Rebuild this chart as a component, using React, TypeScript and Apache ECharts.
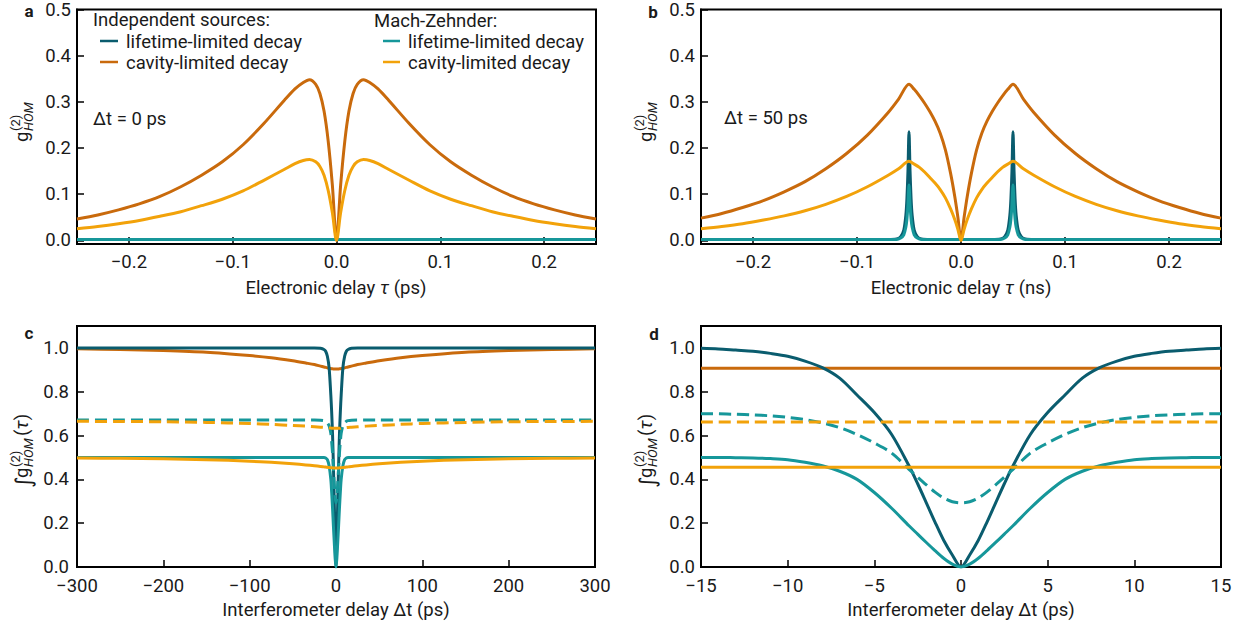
import React, { useEffect, useRef } from "react";
import * as echarts from "echarts";

// ---------- Panel a (Δt = 0 ps), τ in ps ----------
const aTau = [-0.25, -0.23, -0.21, -0.19, -0.17, -0.15, -0.13, -0.11, -0.09, -0.07, -0.05, -0.04, -0.032, -0.026, -0.02, -0.016, -0.012, -0.008, -0.004, 0, 0.004, 0.008, 0.012, 0.016, 0.02, 0.026, 0.032, 0.04, 0.05, 0.07, 0.09, 0.11, 0.13, 0.15, 0.17, 0.19, 0.21, 0.23, 0.25];
const aIndepCavity = [0.046, 0.055, 0.066, 0.079, 0.095, 0.116, 0.141, 0.17, 0.207, 0.253, 0.304, 0.328, 0.342, 0.348, 0.338, 0.318, 0.28, 0.215, 0.12, 0, 0.12, 0.215, 0.28, 0.318, 0.338, 0.348, 0.342, 0.328, 0.304, 0.253, 0.207, 0.17, 0.141, 0.116, 0.095, 0.079, 0.066, 0.055, 0.046];
const aMzCavity = [0.025, 0.03, 0.036, 0.043, 0.052, 0.062, 0.075, 0.089, 0.107, 0.13, 0.154, 0.166, 0.173, 0.175, 0.17, 0.16, 0.141, 0.108, 0.06, 0, 0.06, 0.108, 0.141, 0.16, 0.17, 0.175, 0.173, 0.166, 0.154, 0.13, 0.107, 0.089, 0.075, 0.062, 0.052, 0.043, 0.036, 0.03, 0.025];
const aFlatTau = [-0.25, 0, 0.25];
const aIndepLifetime = [0.002, 0.002, 0.002];
const aMzLifetime = [0.002, 0.002, 0.002];

// ---------- Panel b (Δt = 50 ps), τ in ns ----------
const bTau = [-0.25, -0.23, -0.21, -0.19, -0.17, -0.15, -0.13, -0.11, -0.09, -0.07, -0.06, -0.05, -0.045, -0.04, -0.035, -0.03, -0.025, -0.02, -0.015, -0.01, -0.006, -0.003, 0, 0.003, 0.006, 0.01, 0.015, 0.02, 0.025, 0.03, 0.035, 0.04, 0.045, 0.05, 0.06, 0.07, 0.09, 0.11, 0.13, 0.15, 0.17, 0.19, 0.21, 0.23, 0.25];
const bIndepCavity = [0.048, 0.058, 0.071, 0.086, 0.105, 0.127, 0.155, 0.188, 0.228, 0.277, 0.306, 0.338, 0.327, 0.313, 0.297, 0.279, 0.258, 0.232, 0.196, 0.145, 0.095, 0.05, 0, 0.05, 0.095, 0.145, 0.196, 0.232, 0.258, 0.279, 0.297, 0.313, 0.327, 0.338, 0.306, 0.277, 0.228, 0.188, 0.155, 0.127, 0.105, 0.086, 0.071, 0.058, 0.048];
const bMzCavity = [0.025, 0.03, 0.036, 0.044, 0.053, 0.064, 0.078, 0.095, 0.116, 0.141, 0.155, 0.171, 0.165, 0.158, 0.148, 0.136, 0.124, 0.11, 0.092, 0.068, 0.045, 0.024, 0, 0.024, 0.045, 0.068, 0.092, 0.11, 0.124, 0.136, 0.148, 0.158, 0.165, 0.171, 0.155, 0.141, 0.116, 0.095, 0.078, 0.064, 0.053, 0.044, 0.036, 0.03, 0.025];
const bSpikeTau = [-0.25, -0.1, -0.07, -0.062, -0.058, -0.055, -0.053, -0.052, -0.051, -0.05, -0.049, -0.048, -0.047, -0.045, -0.042, -0.038, -0.03, 0, 0.03, 0.038, 0.042, 0.045, 0.047, 0.048, 0.049, 0.05, 0.051, 0.052, 0.053, 0.055, 0.058, 0.062, 0.07, 0.1, 0.25];
const bIndepLifetime = [0.002, 0.002, 0.002, 0.003, 0.008, 0.022, 0.055, 0.09, 0.15, 0.235, 0.15, 0.09, 0.055, 0.022, 0.008, 0.003, 0.002, 0.002, 0.002, 0.003, 0.008, 0.022, 0.055, 0.09, 0.15, 0.235, 0.15, 0.09, 0.055, 0.022, 0.008, 0.003, 0.002, 0.002, 0.002];
const bMzLifetime = [0.002, 0.002, 0.002, 0.002, 0.005, 0.012, 0.029, 0.046, 0.077, 0.12, 0.077, 0.046, 0.029, 0.012, 0.005, 0.002, 0.002, 0.002, 0.002, 0.002, 0.005, 0.012, 0.029, 0.046, 0.077, 0.12, 0.077, 0.046, 0.029, 0.012, 0.005, 0.002, 0.002, 0.002, 0.002];

// ---------- Panel c, Δt in ps ----------
const cDt = [-300, -250, -200, -150, -100, -75, -50, -35, -25, -18, -14, -12, -10, -8, -6, -5, -4, -3, -2, -1, 0, 1, 2, 3, 4, 5, 6, 8, 10, 12, 14, 18, 25, 35, 50, 75, 100, 150, 200, 250, 300];
const cIndepCavity = [0.996, 0.993, 0.988, 0.98, 0.965, 0.955, 0.941, 0.931, 0.924, 0.917, 0.913, 0.911, 0.909, 0.907, 0.906, 0.905, 0.905, 0.904, 0.904, 0.904, 0.904, 0.904, 0.904, 0.904, 0.905, 0.905, 0.906, 0.907, 0.909, 0.911, 0.913, 0.917, 0.924, 0.931, 0.941, 0.955, 0.965, 0.98, 0.988, 0.993, 0.996];
const cDashedCavity = [0.665, 0.664, 0.663, 0.66, 0.655, 0.651, 0.646, 0.643, 0.64, 0.638, 0.637, 0.636, 0.635, 0.634, 0.634, 0.633, 0.633, 0.633, 0.633, 0.633, 0.633, 0.633, 0.633, 0.633, 0.633, 0.633, 0.634, 0.634, 0.635, 0.636, 0.637, 0.638, 0.64, 0.643, 0.646, 0.651, 0.655, 0.66, 0.663, 0.664, 0.665];
const cMzCavity = [0.498, 0.496, 0.494, 0.49, 0.483, 0.478, 0.471, 0.466, 0.462, 0.459, 0.457, 0.456, 0.455, 0.454, 0.453, 0.453, 0.453, 0.452, 0.452, 0.452, 0.452, 0.452, 0.452, 0.452, 0.453, 0.453, 0.453, 0.454, 0.455, 0.456, 0.457, 0.459, 0.462, 0.466, 0.471, 0.478, 0.483, 0.49, 0.494, 0.496, 0.498];
const cIndepLifetime = [1, 1, 1, 1, 1, 1, 1, 1, 1, 0.998, 0.993, 0.985, 0.962, 0.91, 0.785, 0.705, 0.605, 0.462, 0.293, 0.122, 0, 0.122, 0.293, 0.462, 0.605, 0.705, 0.785, 0.91, 0.962, 0.985, 0.993, 0.998, 1, 1, 1, 1, 1, 1, 1, 1, 1];
const cMzLifetime = [0.5, 0.5, 0.5, 0.5, 0.5, 0.5, 0.5, 0.5, 0.5, 0.5, 0.5, 0.498, 0.49, 0.462, 0.4, 0.34, 0.268, 0.188, 0.112, 0.04, 0, 0.04, 0.112, 0.188, 0.268, 0.34, 0.4, 0.462, 0.49, 0.498, 0.5, 0.5, 0.5, 0.5, 0.5, 0.5, 0.5, 0.5, 0.5, 0.5, 0.5];
const cDashedLifetime = [0.671, 0.671, 0.671, 0.671, 0.671, 0.671, 0.671, 0.671, 0.671, 0.67, 0.668, 0.665, 0.658, 0.645, 0.61, 0.57, 0.52, 0.45, 0.38, 0.318, 0.293, 0.318, 0.38, 0.45, 0.52, 0.57, 0.61, 0.645, 0.658, 0.665, 0.668, 0.67, 0.671, 0.671, 0.671, 0.671, 0.671, 0.671, 0.671, 0.671, 0.671];

// ---------- Panel d, Δt in ps ----------
const dDt = [-15, -14, -13, -12, -11, -10, -9, -8, -7, -6, -5, -4, -3, -2.5, -2, -1.5, -1, -0.5, 0, 0.5, 1, 1.5, 2, 2.5, 3, 4, 5, 6, 7, 8, 9, 10, 11, 12, 13, 14, 15];
const dIndepLifetime = [0.998, 0.995, 0.99, 0.985, 0.975, 0.962, 0.94, 0.91, 0.862, 0.785, 0.705, 0.605, 0.462, 0.38, 0.293, 0.205, 0.122, 0.055, 0, 0.055, 0.122, 0.205, 0.293, 0.38, 0.462, 0.605, 0.705, 0.785, 0.862, 0.91, 0.94, 0.962, 0.975, 0.985, 0.99, 0.995, 0.998];
const dMzLifetime = [0.5, 0.5, 0.499, 0.498, 0.495, 0.49, 0.478, 0.462, 0.437, 0.4, 0.34, 0.268, 0.188, 0.15, 0.112, 0.075, 0.04, 0.013, 0, 0.013, 0.04, 0.075, 0.112, 0.15, 0.188, 0.268, 0.34, 0.4, 0.437, 0.462, 0.478, 0.49, 0.495, 0.498, 0.499, 0.5, 0.5];
const dDashedLifetime = [0.7, 0.699, 0.697, 0.694, 0.69, 0.683, 0.673, 0.658, 0.636, 0.605, 0.566, 0.52, 0.446, 0.41, 0.375, 0.342, 0.315, 0.298, 0.293, 0.298, 0.315, 0.342, 0.375, 0.41, 0.446, 0.52, 0.566, 0.605, 0.636, 0.658, 0.673, 0.683, 0.69, 0.694, 0.697, 0.699, 0.7];
const dFlatDt = [-15, 15];
const dIndepCavity = [0.907, 0.907];
const dDashedCavity = [0.662, 0.662];
const dMzCavity = [0.455, 0.455];

// ---------- Tick values ----------
const abXTicks = [-0.2, -0.1, 0, 0.1, 0.2];
const abYTicks = [0, 0.1, 0.2, 0.3, 0.4, 0.5];
const cXTicks = [-300, -200, -100, 0, 100, 200, 300];
const dXTicks = [-15, -10, -5, 0, 5, 10, 15];
const cdYTicks = [0, 0.2, 0.4, 0.6, 0.8, 1.0];

const FONT = "Roboto, 'DejaVu Sans', sans-serif";
const FS = 18.5;
const INK = "#1a1a1a";
const DARK_TEAL = "#0a5c6e";
const LIGHT_TEAL = "#16979a";
const DARK_ORANGE = "#c96a0c";
const LIGHT_ORANGE = "#f2a20a";

const pts = (xs: number[], ys: number[]) => xs.map((x, i) => [x, ys[i]]);
const fmt = (d: number) => (v: number) => (v < 0 ? "\u2212" : "") + Math.abs(v).toFixed(d);

function xAxisCfg(gridIndex: number, min: number, max: number, ticks: number[], digits: number, margin = 8) {
  return {
    type: "value", gridIndex, min, max,
    axisLine: { show: true, onZero: false, lineStyle: { color: "#000", width: 2 } },
    splitLine: { show: false },
    axisTick: { show: true, inside: true, length: 7, customValues: ticks, lineStyle: { color: "#000", width: 1.5 } },
    axisLabel: { customValues: ticks, formatter: fmt(digits), margin, color: INK, fontFamily: FONT, fontSize: FS },
  };
}
function yAxisCfg(gridIndex: number, min: number, max: number, ticks: number[], margin = 6) {
  return {
    type: "value", gridIndex, min, max,
    axisLine: { show: true, onZero: false, lineStyle: { color: "#000", width: 2 } },
    splitLine: { show: false },
    axisTick: { show: true, inside: true, length: 7, customValues: ticks, lineStyle: { color: "#000", width: 1.5 } },
    axisLabel: { customValues: ticks, formatter: fmt(1), margin, color: INK, fontFamily: FONT, fontSize: FS },
  };
}
function line(name: string, idx: number, data: number[][], color: string, dashed = false) {
  return {
    name, type: "line", xAxisIndex: idx, yAxisIndex: idx, data,
    showSymbol: false, symbol: "none", smooth: 0.3, silent: true,
    emphasis: { disabled: true },
    lineStyle: { color, width: 3, type: dashed ? [12, 6] : "solid", cap: "butt", join: "round" },
  };
}
function txt(x: number, y: number, text: string, extra: any = {}) {
  return {
    type: "text", x, y, silent: true,
    style: { text, fontFamily: FONT, fontSize: FS, fill: INK, align: "left", verticalAlign: "middle", ...extra },
  };
}
function legLine(x1: number, x2: number, y: number, color: string) {
  return { type: "line", silent: true, shape: { x1, y1: y, x2, y2: y }, style: { stroke: color, lineWidth: 2.5 } };
}
function gLabel(x: number, y: number) {
  return {
    type: "group", x, y, rotation: Math.PI / 2, silent: true,
    children: [
      txt(-21, 0, "g"),
      txt(-10, -7, "(2)", { fontSize: 13 }),
      txt(-10, 6, "HOM", { fontSize: 13, fontStyle: "italic" }),
    ],
  };
}
function intLabel(x: number, y: number) {
  return {
    type: "group", x, y, rotation: Math.PI / 2, silent: true,
    children: [
      txt(-40, 1, "\u222B", { fontSize: 22, fontFamily: "'DejaVu Sans', sans-serif" }),
      txt(-30, 0, "g"),
      txt(-19, -7, "(2)", { fontSize: 13 }),
      txt(-19, 6, "HOM", { fontSize: 13, fontStyle: "italic" }),
      txt(12, 0, "({i|\u03C4})", { rich: { i: { fontStyle: "italic", fontSize: FS, fontFamily: FONT, fill: INK } } }),
    ],
  };
}

export default function App() {
  const ref = useRef<HTMLDivElement>(null);
  useEffect(() => {
    if (!ref.current) return;
    const chart = echarts.init(ref.current, undefined, { renderer: "svg" });
    const gridBase = { show: true, borderColor: "#000", borderWidth: 2, backgroundColor: "rgba(0,0,0,0)" };
    const tauRich = { i: { fontStyle: "italic", fontSize: FS, fontFamily: FONT, fill: INK } };
    const option: any = {
      animation: false,
      backgroundColor: "#fff",
      grid: [
        { ...gridBase, left: 77, top: 3, width: 519, height: 241 },
        { ...gridBase, left: 701, top: 3, width: 520, height: 241 },
        { ...gridBase, left: 77, top: 326, width: 518, height: 241 },
        { ...gridBase, left: 701, top: 326, width: 520, height: 241 },
      ],
      xAxis: [
        xAxisCfg(0, -0.25, 0.25, abXTicks, 1),
        xAxisCfg(1, -0.25, 0.25, abXTicks, 1),
        xAxisCfg(2, -300, 300, cXTicks, 0, 9),
        xAxisCfg(3, -15, 15, dXTicks, 0, 9),
      ],
      yAxis: [
        yAxisCfg(0, -0.008, 0.5, abYTicks),
        yAxisCfg(1, -0.008, 0.5, abYTicks),
        yAxisCfg(2, 0, 1.1, cdYTicks, 8),
        yAxisCfg(3, 0, 1.1, cdYTicks, 6),
      ],
      series: [
        line("a indep lifetime", 0, pts(aFlatTau, aIndepLifetime), DARK_TEAL),
        line("a mz lifetime", 0, pts(aFlatTau, aMzLifetime), LIGHT_TEAL),
        line("a indep cavity", 0, pts(aTau, aIndepCavity), DARK_ORANGE),
        line("a mz cavity", 0, pts(aTau, aMzCavity), LIGHT_ORANGE),

        line("b indep lifetime", 1, pts(bSpikeTau, bIndepLifetime), DARK_TEAL),
        line("b mz lifetime", 1, pts(bSpikeTau, bMzLifetime), LIGHT_TEAL),
        line("b indep cavity", 1, pts(bTau, bIndepCavity), DARK_ORANGE),
        line("b mz cavity", 1, pts(bTau, bMzCavity), LIGHT_ORANGE),

        line("c indep cavity", 2, pts(cDt, cIndepCavity), DARK_ORANGE),
        line("c indep lifetime", 2, pts(cDt, cIndepLifetime), DARK_TEAL),
        line("c mz lifetime", 2, pts(cDt, cMzLifetime), LIGHT_TEAL),
        line("c dashed lifetime", 2, pts(cDt, cDashedLifetime), LIGHT_TEAL, true),
        line("c mz cavity", 2, pts(cDt, cMzCavity), LIGHT_ORANGE),
        line("c dashed cavity", 2, pts(cDt, cDashedCavity), LIGHT_ORANGE, true),

        line("d indep cavity", 3, pts(dFlatDt, dIndepCavity), DARK_ORANGE),
        line("d indep lifetime", 3, pts(dDt, dIndepLifetime), DARK_TEAL),
        line("d mz lifetime", 3, pts(dDt, dMzLifetime), LIGHT_TEAL),
        line("d dashed lifetime", 3, pts(dDt, dDashedLifetime), LIGHT_TEAL, true),
        line("d mz cavity", 3, pts(dFlatDt, dMzCavity), LIGHT_ORANGE),
        line("d dashed cavity", 3, pts(dFlatDt, dDashedCavity), LIGHT_ORANGE, true),
      ],
      graphic: [
        txt(29, 11, "a", { fontWeight: "bold", fontSize: 17, align: "center" }),
        txt(653, 12, "b", { fontWeight: "bold", fontSize: 17, align: "center" }),
        txt(29, 333, "c", { fontWeight: "bold", fontSize: 17, align: "center" }),
        txt(654, 334, "d", { fontWeight: "bold", fontSize: 17, align: "center" }),

        txt(93, 20, "Independent sources:"),
        legLine(100, 118, 41, DARK_TEAL),
        txt(126, 42, "lifetime-limited decay"),
        legLine(100, 118, 62, DARK_ORANGE),
        txt(126, 63, "cavity-limited decay"),
        txt(374, 21, "Mach-Zehnder:"),
        legLine(383, 400, 41, LIGHT_TEAL),
        txt(408, 42, "lifetime-limited decay"),
        legLine(383, 400, 62, LIGHT_ORANGE),
        txt(408, 63, "cavity-limited decay"),

        txt(93, 119, "\u0394t = 0 ps"),
        txt(724, 118, "\u0394t = 50 ps"),

        txt(336, 288, "Electronic delay {i|\u03C4} (ps)", { align: "center", rich: tauRich }),
        txt(961, 288, "Electronic delay {i|\u03C4} (ns)", { align: "center", rich: tauRich }),
        txt(336, 610, "Interferometer delay \u0394t (ps)", { align: "center" }),
        txt(961, 610, "Interferometer delay \u0394t (ps)", { align: "center" }),

        gLabel(22, 121),
        gLabel(646, 121),
        intLabel(22, 448),
        intLabel(646, 448),
      ],
    };
    chart.setOption(option);
    return () => chart.dispose();
  }, []);
  return <div ref={ref} style={{ position: "absolute", left: 0, top: 0, width: 1250, height: 631 }} />;
}
